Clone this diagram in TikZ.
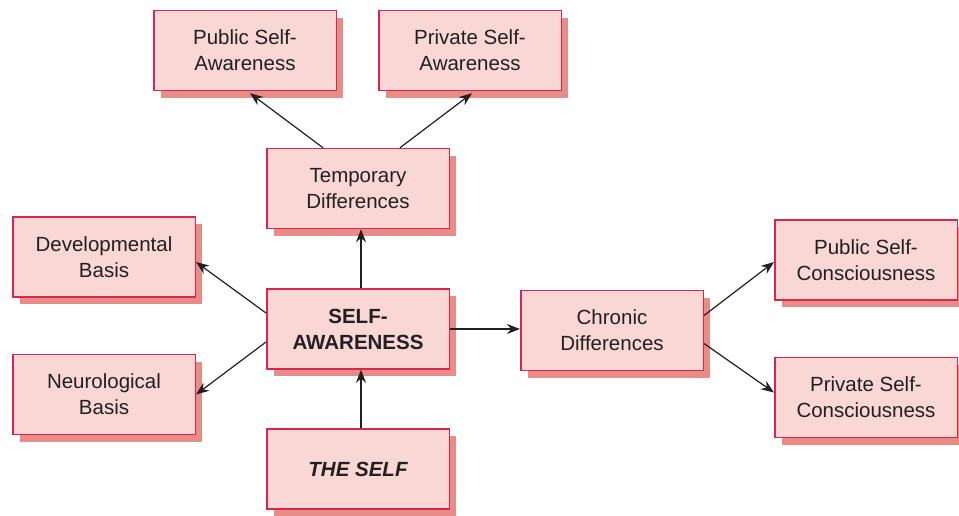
\documentclass[tikz,border=0pt]{standalone}
\usepackage{fontspec}
\setmainfont{Liberation Sans}
\usetikzlibrary{arrows.meta,shadows,calc}
\definecolor{boxfill}{HTML}{F8D7D5}
\definecolor{boxline}{HTML}{D8264F}
\definecolor{boxshadow}{HTML}{E88C88}
\definecolor{txt}{HTML}{231F20}
\tikzset{
  box/.style={draw=boxline, line width=1.5pt, fill=boxfill,
    minimum width=182.5pt, minimum height=80pt, inner sep=0pt,
    align=center, text=txt, font=\fontsize{20.5}{26}\selectfont,
    drop shadow={shadow xshift=7pt, shadow yshift=-7pt, fill=boxshadow, opacity=1}},
  conn/.style={draw=txt, line width=1.2pt, -{Stealth[length=13pt,width=10pt]}}
}
\begin{document}
\begin{tikzpicture}[x=1pt,y=-1pt]
\useasboundingbox (0,0) rectangle (959,515);
\node[box] (pa) at (245,50.5) {Public Self-\\Awareness};
\node[box] (pv) at (470,50.5) {Private Self-\\Awareness};
\node[box] (te) at (358,188.5) {Temporary\\Differences};
\node[box] (db) at (104,257) {Developmental\\Basis};
\node[box] (nb) at (104,394.5) {Neurological\\Basis};
\node[box] (sa) at (358,329) {\bfseries SELF-\\\bfseries AWARENESS};
\node[box] (ch) at (612,330.5) {Chronic\\Differences};
\node[box] (ts) at (358,469) {\bfseries\itshape THE SELF};
\node[box] (pc) at (866,260) {Public Self-\\Consciousness};
\node[box] (vc) at (866,397.5) {Private Self-\\Consciousness};

\draw[conn] ($(te.north)+(-35,0)$) -- ($(pa.south)+(5,2)$);
\draw[conn] ($(te.north)+(42,0)$) -- ($(pv.south)+(2,2)$);
\draw[conn] ($(sa.north)+(3,0)$) -- ($(te.south)+(3,0)$);
\draw[conn] ($(sa.west)+(0,-16)$) -- ($(db.east)+(0,5)$);
\draw[conn] ($(sa.west)+(0,13)$) -- (nb.east);
\draw[conn] (sa.east) -- (sa.east -| ch.west);
\draw[conn] ($(ts.north)+(3,0)$) -- ($(sa.south)+(3,0)$);
\draw[conn] ($(ch.east)+(0,-15)$) -- ($(pc.west)+(0,2)$);
\draw[conn] ($(ch.east)+(0,13)$) -- ($(vc.west)+(0,-5)$);
\end{tikzpicture}
\end{document}
